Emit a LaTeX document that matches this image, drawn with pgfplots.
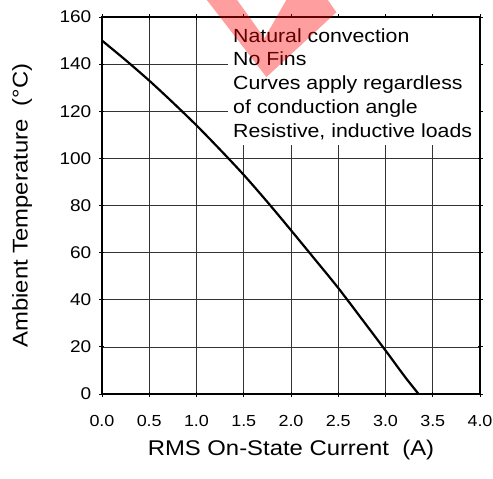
\documentclass[border=0pt]{standalone}
\usepackage{pgfplots}
\pgfplotsset{compat=1.18}
\usepackage{fontspec}
\setmainfont{Liberation Sans}[FakeStretch=1.12]

\begin{document}
\begin{tikzpicture}
\begin{axis}[
  scale only axis, width=378pt, height=377pt,
  xmin=0, xmax=4, ymin=0, ymax=160,
  clip=false,
  xtick={0,0.5,1,1.5,2,2.5,3,3.5,4},
  xticklabels={0.0,0.5,1.0,1.5,2.0,2.5,3.0,3.5,4.0},
  ytick={0,20,40,60,80,100,120,140,160},
  yticklabels={0,20,40,60,80,100,120,140,160},
  grid=major, grid style={black!80, line width=0.7pt},
  axis line style={black, line width=1.1pt},
  tick align=center, major tick length=5pt, tick style={black, line width=0.8pt},
  xticklabel style={font=\fontsize{16}{19}\selectfont, anchor=north, inner sep=0pt, yshift=-19pt},
  yticklabel style={font=\fontsize{17}{20}\selectfont, anchor=east, inner sep=0pt, xshift=-8pt},
  xlabel={RMS On-State Current~~(A)},
  ylabel={Ambient Temperature~~(°C)},
  xlabel style={font=\fontsize{21.3}{25}\selectfont, at={(axis description cs:0.5,-0.148)}, anchor=center},
  ylabel style={font=\fontsize{21.3}{25}\selectfont, at={(axis description cs:-0.2116,0.5)}, anchor=center},
]

% note box: hides the grid, then the frame is drawn again
\fill[white] (axis cs:1.333,105.7) rectangle (axis cs:4,160);
\draw[black, line width=1.1pt] (axis cs:1.3,160) -- (axis cs:4,160) -- (axis cs:4,105);
\node[anchor=north west, align=left, inner sep=0pt,
      font=\fontsize{19}{23.7}\selectfont] at (axis cs:1.386,155.2)
  {Natural convection\\No Fins\\Curves apply regardless\\of conduction angle\\Resistive, inductive loads};

\addplot[black, line width=2.2pt, smooth] coordinates {
  (0,150) (0.25,141.7) (0.5,133) (0.75,123.7) (1.0,114) (1.25,103.7) (1.5,93)
  (1.75,81.5) (2.0,69.5) (2.25,57.3) (2.5,45) (2.75,31.8) (3.0,18.5) (3.2,7.6) (3.35,0)
};

% red watermark fragment
\fill[red, opacity=0.38] (axis cs:1.11,167.2) -- (axis cs:1.43,167.2) -- (axis cs:1.72,151.0)
  -- (axis cs:1.95,167.2) -- (axis cs:2.39,167.2) -- (axis cs:2.48,162.0)
  -- (axis cs:1.74,134.5) -- cycle;

% fix the page to the reference frame
\path (rel axis cs:-0.2698,-0.2228) rectangle (rel axis cs:1.0344,1.0451);
\end{axis}
\end{tikzpicture}
\end{document}
